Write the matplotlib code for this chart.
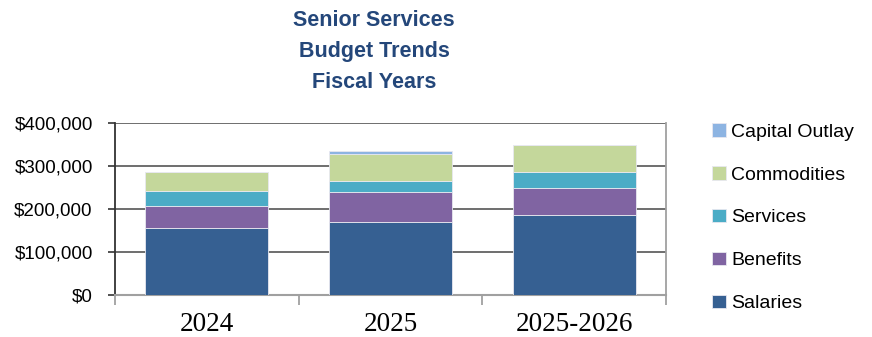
import matplotlib
matplotlib.use("Agg")
import matplotlib.pyplot as plt
from matplotlib.ticker import FuncFormatter

categories = ["2024", "2025", "2025-2026"]
salaries = [155000, 170000, 187000]
benefits = [51000, 70000, 61000]
services = [37000, 26000, 37000]
commodities = [42000, 63000, 63000]
capital_outlay = [0, 6000, 0]
y_ticks = [0, 100000, 200000, 300000, 400000]
title_lines = ["Senior Services", "Budget Trends", "Fiscal Years"]

sans = "Liberation Sans"

fig = plt.figure(figsize=(8.72, 3.37), dpi=100)
ax = fig.add_axes([115/872, 42/337, 551/872, 172/337])

series = [
    ("Salaries", salaries, "#366092"),
    ("Benefits", benefits, "#8064A2"),
    ("Services", services, "#4BACC6"),
    ("Commodities", commodities, "#C4D79B"),
    ("Capital Outlay", capital_outlay, "#8DB4E2"),
]
x = list(range(len(categories)))
bottom = [0] * len(categories)
handles = []
for name, vals, col in series:
    b = ax.bar(x, vals, 0.67, bottom=bottom, color=col, edgecolor="#e8e8f0",
               linewidth=0.6, label=name, zorder=3)
    handles.append(b)
    bottom = [bo + v for bo, v in zip(bottom, vals)]

ax.set_xlim(-0.5, 2.5)
ax.set_ylim(0, 400000)
ax.set_yticks(y_ticks)
ax.yaxis.set_major_formatter(FuncFormatter(lambda v, p: "${:,.0f}".format(v)))
ax.yaxis.grid(True, color="#555555", linewidth=1.2, zorder=0)
ax.set_axisbelow(True)

ax.set_xticks(x)
ax.set_xticklabels(categories, fontfamily="Liberation Serif", fontsize=19.5)
ax.set_xticks([-0.5, 0.5, 1.5, 2.5], minor=True)
ax.tick_params(axis="x", which="major", length=0, pad=12)
ax.tick_params(axis="x", which="minor", length=7, width=1.3, color="#a0a0a0", direction="out")
for lab in ax.get_yticklabels():
    lab.set_fontfamily(sans)
    lab.set_fontsize(13.5)
ax.tick_params(axis="y", length=5, width=1.2, color="#333333", pad=11)

ax.spines["left"].set_color("#333333")
ax.spines["left"].set_linewidth(1.3)
ax.spines["bottom"].set_color("#a0a0a0")
ax.spines["bottom"].set_linewidth(1.5)
ax.spines["right"].set_color("#a0a0a0")
ax.spines["right"].set_linewidth(1.3)
ax.spines["top"].set_visible(False)

fig.text(374/872, 1 - 10/337, "\n".join(title_lines), ha="center", va="top",
         fontfamily=sans, fontsize=15.5, fontweight="bold", color="#24477A",
         linespacing=1.62)

leg = fig.legend(handles[::-1], [s[0] for s in series][::-1],
                 loc="upper left", bbox_to_anchor=(712/872, 1 - 123/337),
                 frameon=False, prop={"family": sans, "size": 14},
                 handlelength=0.7, handleheight=0.7, handletextpad=0.3,
                 labelspacing=1.3, borderaxespad=0, borderpad=0)

fig.savefig("out.png", dpi=100)
